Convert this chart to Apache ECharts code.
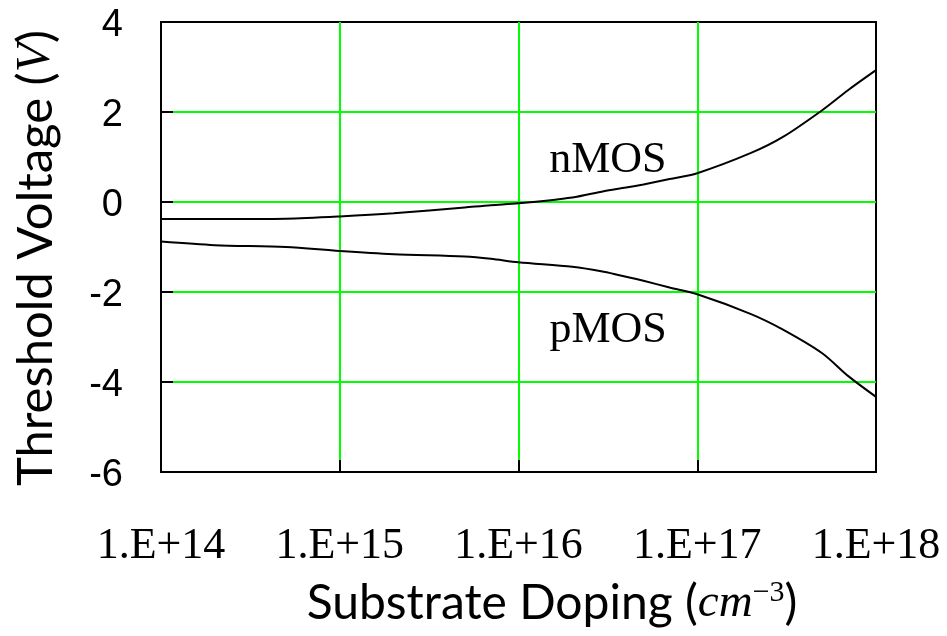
<!DOCTYPE html>
<html>
<head>
<meta charset="utf-8">
<script src="https://cdn.jsdelivr.net/npm/echarts@6/dist/echarts.min.js"></script>
<style>html,body{margin:0;padding:0;background:#fff}#c{width:947px;height:636px}</style>
</head>
<body>
<div id="c"></div>
<script>
// Substrate doping (cm^-3)
const doping = [1e14, 2e14, 5e14, 1e15, 2e15, 5e15, 7e15, 1e16, 2e16, 3e16, 4e16, 5e16, 7e16, 1e17, 2e17, 3e17, 5e17, 7e17, 1e18];
// Threshold voltage (V)
const nmos = [-0.38, -0.38, -0.37, -0.32, -0.25, -0.12, -0.07, -0.03, 0.10, 0.24, 0.32, 0.39, 0.51, 0.64, 1.09, 1.44, 2.04, 2.49, 2.93];
const pmos = [-0.88, -0.96, -1.00, -1.09, -1.16, -1.21, -1.26, -1.34, -1.44, -1.55, -1.66, -1.75, -1.90, -2.05, -2.49, -2.83, -3.36, -3.87, -4.33];
const xTicks = ['1.E+14', '1.E+15', '1.E+16', '1.E+17', '1.E+18'];
const yTicks = [-6, -4, -2, 0, 2, 4];
const curveNames = ['nMOS', 'pMOS'];
const labelAt = [[3.16e16, 0.92], [3.17e16, -2.85]];

const chart = echarts.init(document.getElementById('c'), null, {renderer: 'canvas'});
const lbl = (name, at) => ({
  symbol: 'circle', symbolSize: 1, silent: true,
  itemStyle: {color: 'rgba(0,0,0,0)'},
  label: {show: true, position: 'inside', formatter: name, color: '#000',
          fontFamily: 'Liberation Serif', fontSize: 44},
  data: [{coord: at}]
});
chart.setOption({
  animation: false,
  backgroundColor: '#fff',
  grid: {left: 161, right: 71, top: 22, bottom: 164, show: true,
         borderColor: '#000', borderWidth: 2, outerBoundsMode: 'none'},
  xAxis: {
    type: 'log', logBase: 10, min: 1e14, max: 1e18,
    axisLine: {show: true, onZero: false, lineStyle: {color: '#000', width: 2}},
    axisTick: {show: true, inside: true, length: 12, lineStyle: {color: '#000', width: 2}},
    minorTick: {show: false},
    splitLine: {show: true, showMinLine: false, showMaxLine: false, lineStyle: {color: '#00ff00', width: 2}},
    axisLabel: {margin: 52, color: '#000', fontFamily: 'Liberation Serif', fontSize: 44,
      formatter: v => xTicks[Math.round(Math.log10(v)) - 14]},
    name: '{a|Substrate Doping (}{i|cm}{s|−3}{a|)}',
    nameLocation: 'middle', nameGap: 106,
    nameTextStyle: {padding: [0, 0, 0, 67], rich: {
      a: {fontFamily: 'Lato', fontSize: 48, color: '#000', lineHeight: 52},
      i: {fontFamily: 'Liberation Serif', fontStyle: 'italic', fontSize: 47, color: '#000', lineHeight: 52},
      s: {fontFamily: 'Liberation Serif', fontSize: 30, color: '#000', verticalAlign: 'top', lineHeight: 30}
    }}
  },
  yAxis: {
    type: 'value', min: yTicks[0], max: yTicks[yTicks.length - 1], interval: 2,
    axisLine: {show: true, onZero: false, lineStyle: {color: '#000', width: 2}},
    axisTick: {show: true, inside: true, length: 12, lineStyle: {color: '#000', width: 2}},
    splitLine: {show: true, showMinLine: false, showMaxLine: false, lineStyle: {color: '#00ff00', width: 2}},
    axisLabel: {margin: 38, color: '#000', fontFamily: 'Liberation Sans', fontSize: 38,
      verticalAlign: 'top', lineHeight: 8},
    name: '{a|Threshold Voltage (}{i|V}{a|)}',
    nameLocation: 'middle', nameGap: 100,
    nameTextStyle: {padding: [0, 22, 0, 0], rich: {
      a: {fontFamily: 'Lato', fontSize: 49, color: '#000'},
      i: {fontFamily: 'Liberation Serif', fontStyle: 'italic', fontSize: 48, color: '#000'}
    }}
  },
  series: [
    {name: curveNames[0], type: 'line', data: doping.map((d, i) => [d, nmos[i]]),
     showSymbol: false, smooth: 0.3, lineStyle: {color: '#000', width: 2}, z: 5,
     markPoint: lbl(curveNames[0], labelAt[0])},
    {name: curveNames[1], type: 'line', data: doping.map((d, i) => [d, pmos[i]]),
     showSymbol: false, smooth: 0.3, lineStyle: {color: '#000', width: 2}, z: 5,
     markPoint: lbl(curveNames[1], labelAt[1])}
  ]
});
</script>
</body>
</html>
